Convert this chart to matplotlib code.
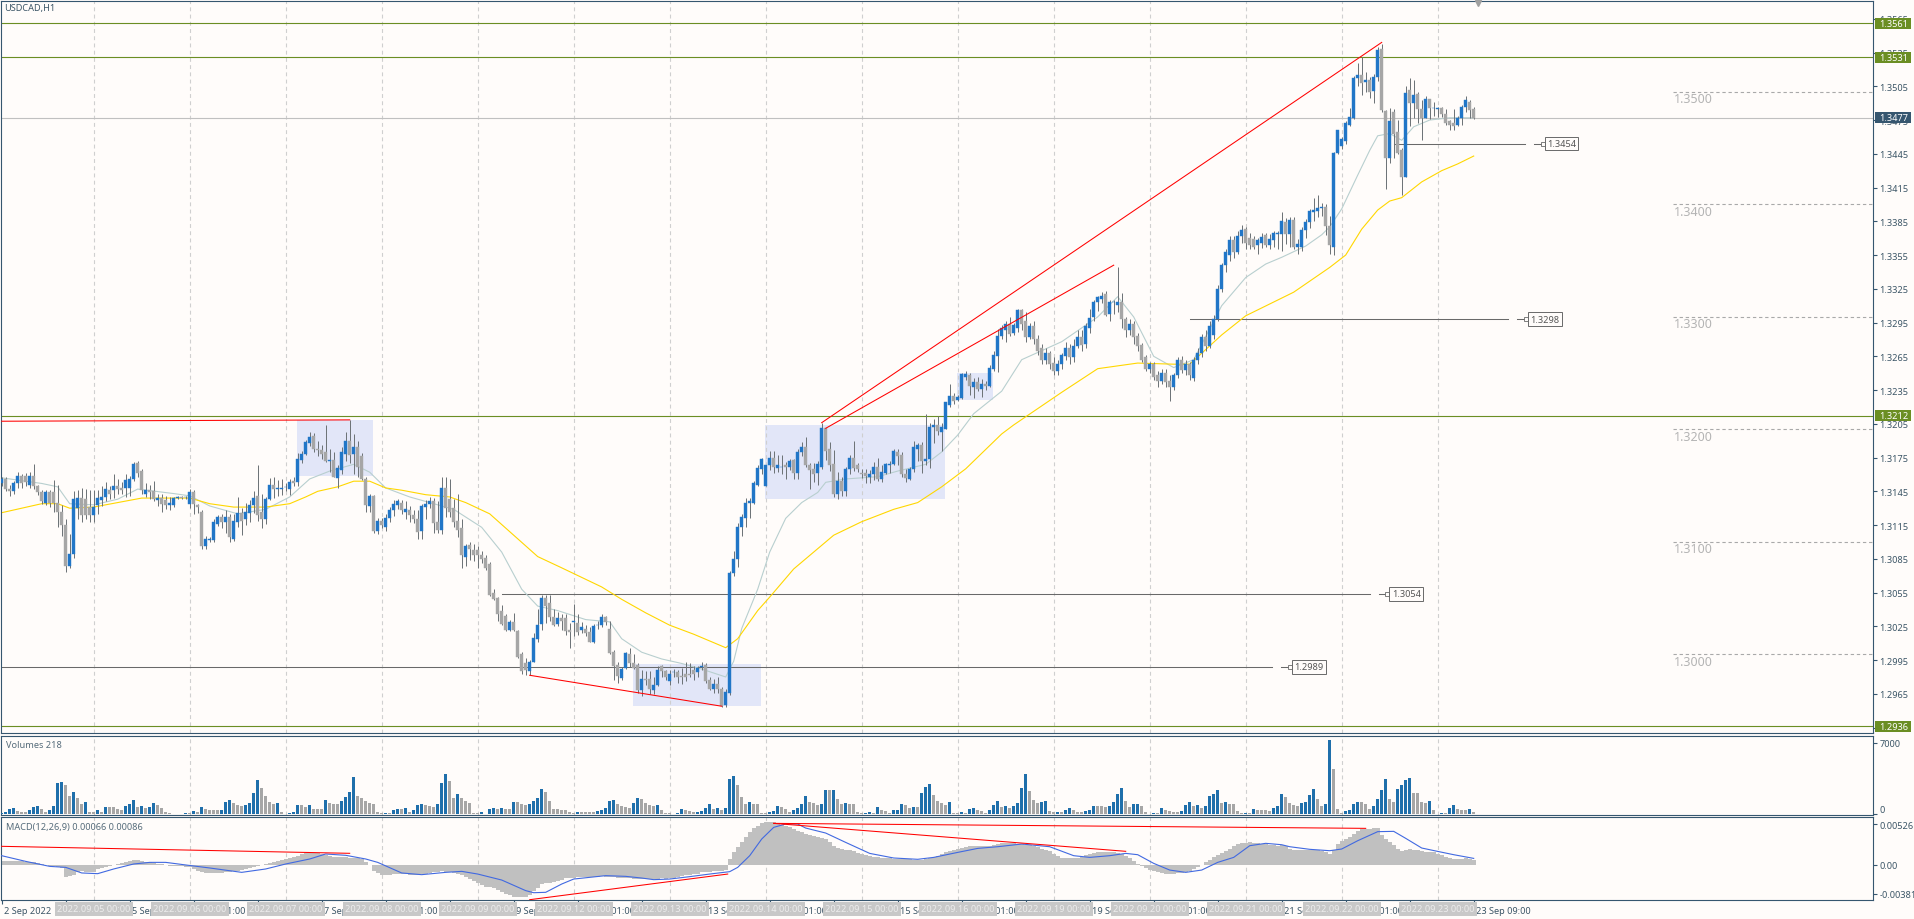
import matplotlib
matplotlib.use("Agg")
import matplotlib.pyplot as plt
from matplotlib.patches import Rectangle
from matplotlib.transforms import ScaledTranslation

plt.rcParams['font.family'] = ['Noto Sans', 'DejaVu Sans']
plt.rcParams['font.size'] = 6.6

# --- candles, in points above 1.0000 (3152 = 1.3152), one row per ten bars ---
opens = [
    3152,3156,3147,3145,3152,3159,3159,3151,3159,3150,
    3144,3135,3144,3144,3135,3127,3115,3079,3089,3130,
    3139,3138,3131,3124,3133,3137,3140,3146,3146,3150,
    3148,3148,3148,3156,3170,3163,3143,3146,3145,3137,
    3139,3137,3133,3133,3139,3140,3140,3134,3144,3133,
    3127,3096,3102,3102,3116,3122,3118,3122,3103,3118,
    3126,3120,3126,3133,3141,3127,3120,3138,3151,3147,
    3147,3149,3147,3154,3153,3173,3178,3188,3194,3183,
    3182,3180,3172,3173,3157,3164,3178,3190,3178,3184,
    3176,3156,3132,3141,3110,3119,3113,3121,3128,3133,
    3135,3127,3128,3124,3120,3110,3131,3134,3136,3118,
    3111,3148,3138,3130,3119,3112,3087,3097,3093,3093,
    3088,3086,3080,3055,3050,3039,3034,3022,3029,3021,
    3000,2992,2985,2993,3014,3027,3050,3046,3033,3027,
    3032,3032,3022,3029,3028,3022,3023,3020,3011,3026,
    3026,3033,3023,3002,2991,2979,2988,3000,2992,2991,
    2968,2978,2978,2968,2973,2990,2985,2976,2984,2984,
    2981,2983,2983,2986,2984,2989,2991,2977,2969,2974,
    2969,2955,2966,3072,3085,3113,3121,3135,3135,3151,
    3165,3150,3168,3175,3166,3167,3168,3167,3173,3161,
    3180,3184,3168,3165,3161,3167,3201,3183,3169,3143,
    3154,3145,3165,3175,3168,3161,3161,3158,3160,3167,
    3156,3161,3168,3169,3180,3177,3160,3156,3165,3183,
    3186,3172,3174,3202,3204,3198,3200,3222,3230,3226,
    3228,3247,3248,3238,3242,3236,3240,3239,3254,3265,
    3283,3288,3294,3286,3290,3306,3296,3282,3292,3280,
    3272,3262,3268,3259,3252,3258,3265,3272,3264,3274,
    3282,3276,3290,3300,3313,3316,3320,3303,3313,3311,
    3313,3298,3288,3294,3283,3275,3264,3254,3258,3248,
    3243,3250,3243,3238,3248,3262,3253,3258,3246,3262,
    3268,3282,3274,3284,3298,3325,3346,3355,3368,3358,
    3372,3378,3370,3369,3364,3366,3373,3364,3368,3374,
    3374,3384,3374,3386,3362,3362,3377,3384,3393,3394,
    3397,3398,3381,3362,3446,3452,3456,3471,3477,3512,
    3515,3509,3511,3501,3513,3538,3483,3441,3482,3464,
    3448,3424,3502,3490,3498,3485,3477,3494,3486,3485,
    3486,3480,3474,3472,3471,3477,3487,3491,3485,
]
closes = [
    3156,3147,3145,3152,3159,3152,3153,3159,3150,3144,
    3136,3144,3135,3135,3127,3115,3079,3089,3138,3139,
    3124,3124,3124,3131,3139,3140,3147,3143,3150,3147,
    3146,3155,3156,3169,3161,3146,3146,3144,3138,3139,
    3134,3133,3135,3139,3140,3139,3140,3144,3134,3131,
    3096,3103,3103,3118,3122,3118,3122,3104,3119,3126,
    3119,3127,3133,3139,3124,3120,3138,3151,3147,3148,
    3148,3149,3153,3152,3174,3178,3189,3193,3183,3182,
    3178,3172,3173,3158,3166,3180,3190,3177,3184,3167,
    3156,3133,3141,3110,3119,3115,3121,3128,3134,3136,
    3128,3129,3124,3120,3109,3132,3134,3136,3117,3111,
    3148,3130,3127,3118,3111,3088,3096,3094,3088,3088,
    3085,3077,3053,3049,3036,3027,3022,3029,3022,2998,
    2985,2986,2993,3015,3026,3050,3043,3033,3026,3032,
    3030,3021,3020,3030,3020,3024,3019,3011,3025,3026,
    3033,3029,3001,2990,2981,2987,3001,2992,2988,2968,
    2978,2977,2969,2973,2986,2985,2980,2983,2984,2980,
    2980,2980,2982,2983,2988,2990,2976,2969,2974,2969,
    2954,2967,3072,3085,3113,3122,3135,3136,3152,3166,
    3174,3168,3175,3167,3168,3167,3167,3172,3161,3180,
    3184,3168,3164,3160,3169,3201,3181,3168,3143,3154,
    3145,3165,3175,3166,3165,3160,3159,3160,3167,3156,
    3162,3169,3169,3181,3176,3160,3157,3165,3184,3186,
    3172,3174,3202,3204,3199,3202,3224,3230,3225,3229,
    3249,3249,3239,3242,3236,3240,3239,3255,3266,3283,
    3290,3294,3285,3293,3306,3294,3282,3292,3280,3270,
    3262,3268,3258,3252,3258,3266,3272,3264,3274,3282,
    3275,3292,3299,3313,3318,3319,3302,3313,3313,3313,
    3298,3288,3294,3282,3274,3262,3254,3258,3247,3243,
    3250,3242,3238,3248,3262,3253,3258,3248,3262,3268,
    3282,3274,3292,3298,3325,3346,3358,3368,3358,3372,
    3377,3366,3364,3362,3368,3371,3364,3369,3375,3375,
    3385,3374,3386,3362,3365,3377,3384,3394,3395,3397,
    3398,3381,3364,3446,3466,3458,3472,3478,3512,3515,
    3508,3511,3500,3513,3537,3484,3441,3474,3463,3446,
    3424,3499,3490,3497,3485,3477,3494,3486,3486,3486,
    3480,3472,3471,3470,3477,3487,3493,3484,3477,
]
highs = [
    3158,3158,3151,3154,3162,3160,3161,3162,3169,3151,
    3146,3146,3146,3155,3151,3133,3120,3107,3145,3146,
    3148,3147,3146,3146,3146,3150,3153,3150,3160,3156,
    3153,3160,3159,3171,3172,3165,3152,3151,3154,3143,
    3143,3141,3140,3140,3141,3141,3141,3147,3146,3134,
    3128,3105,3104,3120,3124,3125,3128,3125,3125,3140,
    3130,3135,3137,3145,3168,3143,3140,3157,3158,3155,
    3156,3152,3156,3158,3179,3181,3191,3198,3197,3190,
    3186,3204,3183,3180,3168,3184,3198,3208,3196,3190,
    3179,3158,3143,3142,3121,3121,3125,3131,3137,3138,
    3137,3136,3132,3128,3128,3134,3137,3140,3139,3136,
    3158,3158,3156,3138,3143,3120,3098,3100,3098,3096,
    3092,3088,3082,3058,3051,3044,3036,3031,3037,3022,
    3002,2997,2995,3019,3040,3053,3053,3053,3040,3038,
    3036,3036,3028,3045,3036,3029,3026,3024,3027,3030,
    3036,3034,3030,3004,2993,2989,3002,3006,3000,2992,
    2986,2985,2985,2980,2990,2991,2986,2986,2987,2986,
    2988,2993,2992,2990,2990,2993,2992,2980,2978,2980,
    2971,2969,3074,3092,3117,3125,3139,3139,3154,3168,
    3175,3168,3181,3181,3177,3177,3171,3174,3174,3183,
    3189,3193,3170,3170,3172,3206,3201,3189,3182,3162,
    3158,3167,3177,3190,3170,3165,3165,3164,3171,3175,
    3168,3170,3172,3183,3183,3180,3165,3167,3190,3188,
    3189,3214,3206,3209,3212,3206,3224,3240,3232,3231,
    3250,3252,3250,3246,3247,3245,3243,3257,3270,3289,
    3293,3296,3300,3295,3307,3307,3304,3295,3296,3284,
    3276,3272,3270,3264,3262,3268,3278,3276,3280,3288,
    3288,3295,3307,3315,3319,3322,3323,3315,3315,3344,
    3321,3300,3298,3296,3286,3277,3266,3260,3260,3252,
    3254,3254,3248,3250,3264,3265,3262,3260,3264,3272,
    3285,3288,3296,3302,3328,3348,3360,3372,3372,3376,
    3382,3380,3375,3372,3370,3375,3375,3374,3376,3376,
    3393,3388,3389,3389,3369,3380,3387,3396,3406,3408,
    3401,3400,3390,3447,3466,3460,3474,3486,3514,3526,
    3531,3518,3513,3516,3540,3543,3484,3486,3485,3475,
    3450,3505,3512,3511,3500,3493,3496,3494,3491,3487,
    3487,3485,3475,3485,3479,3488,3496,3493,3487,
]
lows = [
    3150,3145,3141,3143,3148,3148,3150,3148,3147,3142,
    3134,3133,3131,3127,3113,3105,3073,3077,3086,3120,
    3118,3120,3118,3118,3125,3132,3136,3138,3139,3143,
    3143,3140,3141,3154,3158,3143,3140,3138,3136,3132,
    3127,3129,3128,3131,3138,3138,3138,3130,3125,3126,
    3094,3094,3100,3100,3114,3112,3108,3100,3101,3113,
    3106,3115,3118,3126,3119,3112,3116,3137,3139,3141,
    3142,3145,3142,3150,3150,3170,3177,3185,3180,3176,
    3174,3171,3162,3158,3148,3160,3172,3170,3160,3158,
    3155,3127,3127,3108,3107,3112,3110,3118,3123,3129,
    3125,3120,3118,3117,3103,3103,3120,3130,3108,3108,
    3107,3122,3122,3113,3104,3077,3079,3084,3083,3077,
    3081,3075,3052,3048,3030,3026,3021,3021,3021,2997,
    2983,2982,2982,2993,3011,3022,3028,3030,3025,3025,
    3022,3017,3006,3016,3017,3019,3016,3011,3010,3023,
    3024,3026,3000,2977,2975,2977,2987,2989,2987,2966,
    2963,2973,2965,2965,2972,2980,2977,2973,2980,2975,
    2974,2976,2980,2977,2980,2986,2975,2968,2966,2966,
    2953,2953,2964,3070,3078,3105,3113,3121,3134,3150,
    3160,3150,3164,3161,3162,3160,3156,3164,3156,3156,
    3176,3167,3147,3153,3151,3165,3173,3163,3140,3138,
    3141,3141,3160,3163,3162,3157,3152,3152,3155,3154,
    3153,3160,3161,3168,3168,3158,3153,3155,3162,3172,
    3161,3168,3166,3188,3195,3181,3200,3220,3223,3225,
    3227,3244,3231,3228,3234,3229,3235,3238,3252,3251,
    3280,3278,3283,3284,3287,3288,3278,3280,3276,3266,
    3258,3258,3254,3248,3248,3254,3262,3258,3260,3272,
    3270,3272,3286,3296,3305,3312,3301,3296,3303,3304,
    3290,3282,3284,3276,3270,3260,3252,3250,3244,3238,
    3240,3238,3225,3235,3246,3250,3248,3244,3243,3258,
    3264,3270,3272,3280,3296,3322,3340,3350,3352,3356,
    3366,3360,3360,3360,3356,3361,3362,3360,3362,3360,
    3359,3365,3362,3360,3356,3359,3370,3379,3385,3389,
    3390,3373,3356,3355,3445,3449,3454,3470,3476,3505,
    3497,3500,3495,3490,3510,3482,3414,3437,3441,3445,
    3408,3424,3470,3477,3472,3457,3477,3476,3479,3478,
    3478,3471,3466,3466,3470,3471,3482,3477,3476,
]

volume_units = [
    5,6,15,18,10,6,6,13,23,26,
    17,8,14,24,93,96,87,54,66,50,
    32,36,6,6,14,8,23,22,22,15,
    13,24,32,42,22,25,19,21,33,27,
    18,8,3,2,2,2,4,4,10,6,
    21,16,14,12,12,14,37,42,33,27,
    25,27,35,63,102,78,54,37,32,34,
    6,2,5,8,27,27,23,27,16,16,
    16,42,35,32,30,40,52,66,111,54,
    48,40,35,30,6,3,5,5,12,17,
    17,19,8,14,27,32,27,26,23,30,
    95,120,100,48,60,48,40,33,5,5,
    7,2,16,18,17,18,15,15,38,38,
    30,27,32,40,50,75,68,40,15,15,
    13,13,8,5,8,8,7,6,6,9,
    14,20,40,42,30,25,22,18,35,50,
    45,34,27,24,27,12,5,3,2,4,
    15,14,10,6,7,10,20,32,16,18,
    13,20,107,116,87,52,32,38,30,30,
    5,3,8,9,24,21,16,6,14,19,
    30,54,38,33,27,30,72,72,74,45,
    30,35,32,30,6,3,5,6,5,22,
    12,9,5,12,14,30,27,20,22,22,
    63,83,90,58,40,33,27,38,5,3,
    8,5,15,20,13,10,5,14,27,40,
    23,25,18,25,35,78,120,70,44,33,
    38,40,9,6,7,6,14,20,13,8,
    6,11,14,26,26,24,22,26,38,62,
    78,40,22,30,32,24,8,2,5,5,
    19,13,10,8,7,11,27,38,24,28,
    18,24,56,60,72,33,38,32,30,9,
    4,5,4,16,14,12,12,11,18,24,
    62,53,33,27,25,33,38,57,75,47,
    25,30,222,135,15,3,9,14,32,38,
    38,30,15,24,47,72,107,47,38,77,
    87,104,110,63,63,36,33,41,12,2,
    5,5,18,27,15,12,12,17,6,
]

# MACD histogram and signal, in units of 0.00001
macd_hist = [
    50,48,45,45,43,43,40,38,30,20,
    8,-5,-13,-22,-30,-40,-160,-150,-130,-95,
    -85,-95,-100,-95,-56,-40,-26,-13,-4,8,
    17,30,43,60,60,48,40,30,22,12,
    5,-5,-12,-17,-20,-22,-25,-30,-55,-78,
    -100,-113,-113,-113,-110,-105,-100,-95,-85,-78,
    -65,-50,-43,-30,-20,-8,10,25,35,50,
    60,70,85,100,117,135,156,156,156,150,
    140,125,110,104,104,100,95,85,85,85,
    70,30,-10,-78,-105,-130,-130,-130,-125,-115,
    -115,-125,-140,-140,-130,-120,-115,-110,-100,-90,
    -85,-90,-100,-110,-125,-140,-165,-190,-215,-240,
    -260,-285,-295,-310,-330,-360,-380,-400,-425,-425,
    -420,-420,-400,-340,-300,-250,-245,-240,-225,-215,
    -200,-180,-175,-170,-165,-155,-155,-155,-155,-155,
    -150,-155,-160,-165,-170,-175,-175,-180,-185,-187,
    -190,-190,-190,-190,-185,-180,-185,-175,-170,-160,
    -150,-140,-130,-125,-115,-100,-95,-90,-85,-80,
    -78,-75,74,160,230,300,365,430,480,510,
    545,560,560,555,535,520,510,490,470,445,
    425,400,380,370,360,345,335,300,240,220,
    205,190,185,175,150,140,125,110,105,95,
    90,87,85,80,75,72,70,68,65,65,
    65,72,85,95,115,140,165,180,190,205,
    220,235,247,247,245,240,238,240,255,275,
    278,278,278,278,275,270,262,250,245,225,
    205,190,175,135,115,90,82,85,90,92,
    100,120,135,150,160,160,160,160,160,155,
    140,117,85,52,15,-15,-43,-70,-87,-100,
    -112,-118,-120,-118,-113,-105,-95,-78,-60,-30,
    0,35,60,95,120,150,175,205,240,270,
    280,288,290,285,280,275,265,255,250,247,
    250,240,200,190,190,185,185,185,185,185,
    180,160,139,190,270,305,335,365,405,445,
    460,465,470,475,475,380,330,300,260,200,
    182,190,204,195,185,175,170,165,160,140,
    120,105,90,80,75,78,85,80,66,
]
signal_idx = [0,6,12,16,20,24,28,33,37,41,48,52,60,66,71,77,81,86,91,94,100,105,111,115,119,125,
              131,133,136,140,143,151,156,160,163,167,172,177,182,184,187,190,193,196,199,201,206,
              211,217,223,229,233,239,244,249,255,262,268,272,277,281,284,288,292,296,300,304,308,
              312,316,320,322,327,332,335,339,344,348,351,355,359,363,368]
signal_val = [117,43,-22,-35,-108,-117,-56,9,30,30,-17,-43,-100,-56,9,74,139,122,74,30,-108,-130,-100,
              -87,-122,-200,-338,-365,-360,-252,-187,-143,-152,-174,-195,-187,-156,-122,-91,-35,117,
              334,486,530,530,477,412,290,147,87,70,95,160,212,234,269,234,117,95,117,147,130,17,-70,
              -100,-70,30,95,247,278,260,234,200,182,204,312,430,434,343,217,173,130,82]

# moving averages, read at breakpoints, in points above 1.0000
ma_slow_idx = [0,10,14,17,23,29,35,47,52,58,66,72,76,79,84,88,92,96,100,106,112,116,122,128,134,140,
               150,155,161,167,173,177,181,184,189,192,198,204,208,215,223,229,235,241,250,253,265,
               274,284,293,297,305,311,323,332,336,340,344,347,350,355,360,364,368]
ma_slow_val = [3126,3134,3134,3130,3131,3135,3139,3139,3134,3131,3131,3134,3140,3145,3149,3154,3154,3148,
               3146,3142,3140,3135,3125,3106,3087,3077,3060,3049,3037,3026,3018,3012,3006,3014,3039,
               3051,3076,3094,3106,3118,3129,3135,3149,3165,3196,3204,3233,3254,3259,3258,3258,3284,
               3301,3322,3344,3355,3378,3395,3403,3406,3420,3430,3436,3443]
ma_fast_idx = [0,10,14,17,23,29,34,43,47,52,59,66,72,77,82,88,92,96,102,108,113,120,125,130,134,139,
               146,152,155,160,165,170,175,181,183,185,189,192,196,200,204,206,211,219,224,231,235,
               239,243,250,255,265,274,279,283,288,293,298,305,311,316,320,326,330,332,335,339,342,
               344,347,350,353,357,362,368]
ma_fast_val = [3157,3152,3149,3134,3133,3138,3147,3143,3141,3132,3125,3129,3140,3156,3163,3169,3162,3148,
               3140,3134,3129,3113,3091,3058,3043,3039,3031,3029,3014,3002,2996,2992,2987,2980,2994,
               3023,3058,3091,3121,3135,3144,3153,3156,3158,3163,3169,3180,3195,3214,3234,3262,3278,
               3300,3318,3300,3265,3255,3262,3310,3335,3347,3353,3363,3373,3380,3396,3426,3448,3461,
               3463,3457,3469,3475,3477,3477]

# levels and labels
green_levels = [1.3561, 1.3531, 1.3212, 1.2936]
last_price = 1.3477
round_levels = [1.35, 1.34, 1.33, 1.32, 1.31, 1.30]
level_prices = [1.3454, 1.3298, 1.3054, 1.2989]
level_start = [348, 297, 125, 0]
level_label_idx = [385.8, 381.6, 347, 322.6]
# (start bar, start points, end bar, end points)
price_trends = [(0, 3207.3, 87, 3208.5), (132, 2981.5, 180, 2954),
                (205, 3206, 345, 3544), (206, 3201, 278, 3346)]
macd_trends = [(0, 239, 87, 148), (132, -456, 181.5, -122),
               (193, 538, 281, 174), (193, 538, 341, 473)]
# (first bar, last bar, low points, high points)
zones = [(73.8, 92.8, 3159, 3208.5), (190.8, 235.8, 3138, 3204),
         (238.9, 247.7, 3226, 3250), (157.8, 189.8, 2954.6, 2991.6)]

day_idx = [23, 47, 71, 95, 119, 143, 167, 191, 215, 239, 263, 287, 311, 335, 359]
day_labels = ['2022.09.05 00:00', '2022.09.06 00:00', '2022.09.07 00:00', '2022.09.08 00:00', '2022.09.09 00:00',
              '2022.09.12 00:00', '2022.09.13 00:00', '2022.09.14 00:00', '2022.09.15 00:00', '2022.09.16 00:00',
              '2022.09.19 00:00', '2022.09.20 00:00', '2022.09.21 00:00', '2022.09.22 00:00', '2022.09.23 00:00']
time_idx = list(range(0, 369, 16))
time_labels = ['2 Sep 2022', '2 Sep 17:00', '5 Sep 09:00', '6 Sep 01:00', '6 Sep 17:00', '7 Sep 09:00',
               '8 Sep 01:00', '8 Sep 17:00', '9 Sep 09:00', '12 Sep 01:00', '12 Sep 17:00', '13 Sep 09:00',
               '14 Sep 01:00', '14 Sep 17:00', '15 Sep 09:00', '16 Sep 01:00', '16 Sep 17:00', '19 Sep 09:00',
               '20 Sep 01:00', '20 Sep 17:00', '21 Sep 09:00', '22 Sep 01:00', '22 Sep 17:00', '23 Sep 09:00']
price_ticks = [(13565 - 30 * k) / 10000 for k in range(22)]

BG = '#FFFCFA'
FRAME = '#36566F'
BLUE = '#2176C7'
VOL_BLUE = '#1F6FAB'
GRAY = '#A6A6A6'
WICK = '#6E7478'
GREEN = '#6B8E23'
W, H = 1915, 920


def px(points):
    # points above 1.0000 to price
    return 1 + points / 10000


fig = plt.figure(figsize=(W / 100, H / 100), dpi=100, facecolor=BG)


def add_pane(top, bottom):
    ax = fig.add_axes([1 / W, 1 - bottom / H, 1872 / W, (bottom - top) / H], facecolor=BG)
    ax.set_xlim(-0.175, 467.825)
    for s in ax.spines.values():
        s.set_color(FRAME)
        s.set_linewidth(0.8)
    ax.yaxis.tick_right()
    ax.tick_params(axis='y', length=3, width=0.8, pad=1.5, color=FRAME, labelcolor='#3B5566', labelsize=6.6)
    ax.tick_params(axis='x', length=0)
    ax.set_xticks([])
    for d in day_idx:
        ax.axvline(d, color='#CFCFCF', lw=0.8, ls=(0, (3.5, 3)), zorder=1)
    return ax


ax_main = add_pane(2, 734)
ax_vol = add_pane(736.7, 816)
ax_macd = add_pane(818.3, 901)

# --- main chart ---
for z in zones:
    ax_main.add_patch(Rectangle((z[0], px(z[2])), z[1] - z[0], (z[3] - z[2]) / 10000,
                                facecolor='#E2E6F8', edgecolor='none', zorder=0.5))

for lev in round_levels:
    ax_main.plot([417.8, 467.8], [lev, lev], color='#A9A9A9', lw=0.8, ls=(0, (3, 2.5)), zorder=1)
    ax_main.annotate('%.4f' % lev, (417.8, lev), xytext=(1, -7), textcoords='offset pixels',
                     color='#B4B4B4', fontsize=9, va='center', ha='left')

ax_main.axhline(last_price, color='#C0C0C0', lw=0.8, zorder=1.5)
for lev in green_levels:
    ax_main.axhline(lev, color=GREEN, lw=0.8, zorder=1.5)

for p, s, lab in zip(level_prices, level_start, level_label_idx):
    ax_main.plot([s, lab - 5], [p, p], color='#696969', lw=0.75, zorder=1.6)
    ax_main.plot([lab - 2.75, lab - 0.75], [p, p], color='#696969', lw=0.75, zorder=1.6)
    ax_main.plot([lab - 0.6], [p], marker='s', ms=2.2, mfc=BG, mec='#696969', mew=0.6, zorder=1.7)
    ax_main.annotate('%.4f' % p, (lab, p), xytext=(2, 0), textcoords='offset pixels', color='#555555',
                     va='center', ha='left', zorder=4,
                     bbox=dict(boxstyle='square,pad=0.25', fc=BG, ec='#696969', lw=0.7))

x = list(range(len(closes)))
ax_main.plot(ma_fast_idx, [px(v) for v in ma_fast_val], color='#B8CFCF', lw=0.8, zorder=2)
ax_main.plot(ma_slow_idx, [px(v) for v in ma_slow_val], color='#FFD700', lw=0.8, zorder=2)

ax_main.vlines(x, [px(v) for v in lows], [px(v) for v in highs], color=WICK, lw=0.72, zorder=3)
body_colors = [BLUE if c >= o else GRAY for o, c in zip(opens, closes)]
ax_main.bar(x, [abs(c - o) / 10000 for o, c in zip(opens, closes)], width=0.72,
            bottom=[px(min(o, c)) for o, c in zip(opens, closes)],
            color=body_colors, edgecolor=body_colors, linewidth=0.3, zorder=3.1)

for t in price_trends:
    ax_main.plot([t[0], t[2]], [px(t[1]), px(t[3])], color='#FF0000', lw=0.75, zorder=3.5)

ax_main.plot([369], [1.3579], marker='v', ms=4.5, color='#A0A0A0', clip_on=False, zorder=4)
ax_main.annotate('USDCAD,H1', (0, 1), xycoords='axes fraction', xytext=(3, -7), textcoords='offset pixels',
                 color='#3B5566', va='center', ha='left')
ax_main.set_yticks(price_ticks, ['%.4f' % p for p in price_ticks])
ax_main.set_ylim(1.29302, 1.35808)

# price flags on the right scale
for lev, col in [(l, GREEN) for l in green_levels] + [(last_price, FRAME)]:
    ax_main.add_patch(Rectangle((1.001, lev - 0.00049), 36 / 1872, 0.00098, transform=ax_main.get_yaxis_transform(),
                                facecolor=col, edgecolor='none', clip_on=False, zorder=6))
    ax_main.annotate('%.4f' % lev, (1, lev), xycoords=ax_main.get_yaxis_transform(), xytext=(6, 0),
                     textcoords='offset pixels', color='white', va='center', ha='left', zorder=7,
                     annotation_clip=False)

# --- volumes ---
volumes = [v * 32.5 for v in volume_units]
vol_colors = [VOL_BLUE] + [VOL_BLUE if volumes[i] > volumes[i - 1] else GRAY for i in range(1, len(volumes))]
ax_vol.bar(x, volumes, width=0.72, color=vol_colors, zorder=3)
ax_vol.set_ylim(-50, 7683)
ax_vol.set_yticks([0, 7000], ['0', '7000'])
ax_vol.get_yticklabels()[0].set_va('bottom')
ax_vol.annotate('Volumes 218', (0, 1), xycoords='axes fraction', xytext=(5, -9), textcoords='offset pixels',
                color='#556B7A', va='center', ha='left')

# --- MACD ---
ax_macd.bar(x, [v * 1e-5 for v in macd_hist], width=1.0, color='#C0C0C0', zorder=2)
ax_macd.plot(signal_idx, [v * 1e-5 for v in signal_val], color='#4169E1', lw=0.8, zorder=3)
for t in macd_trends:
    ax_macd.plot([t[0], t[2]], [t[1] * 1e-5, t[3] * 1e-5], color='#FF0000', lw=0.75, zorder=4)
ax_macd.set_ylim(-0.0046, 0.00617)
ax_macd.set_yticks([-0.00381, 0, 0.00526], ['-0.00381', '0.00', '0.00526'])
ax_macd.annotate('MACD(12,26,9) 0.00066 0.00086', (0, 1), xycoords='axes fraction', xytext=(5, -9),
                 textcoords='offset pixels', color='#556B7A', va='center', ha='left')

# --- time scale ---
ax_macd.set_xticks(time_idx, time_labels, ha='left')
ax_macd.tick_params(axis='x', length=3, width=0.8, pad=1, color=FRAME, labelcolor='#3B5566', labelsize=6.6)
for lab in ax_macd.get_xticklabels():
    lab.set_transform(lab.get_transform() + ScaledTranslation(2 / 100, 0, fig.dpi_scale_trans))
for d, lab in zip(day_idx, day_labels):
    ax_macd.annotate(lab, (d, 0), xycoords=ax_macd.get_xaxis_transform(), xytext=(0, -9), textcoords='offset pixels',
                     color='#EDEDED', ha='center', va='center', zorder=8, annotation_clip=False,
                     bbox=dict(boxstyle='square,pad=0.25', fc='#C8C8C8', ec='none'))

fig.savefig('out.png', dpi=100, facecolor=BG)
